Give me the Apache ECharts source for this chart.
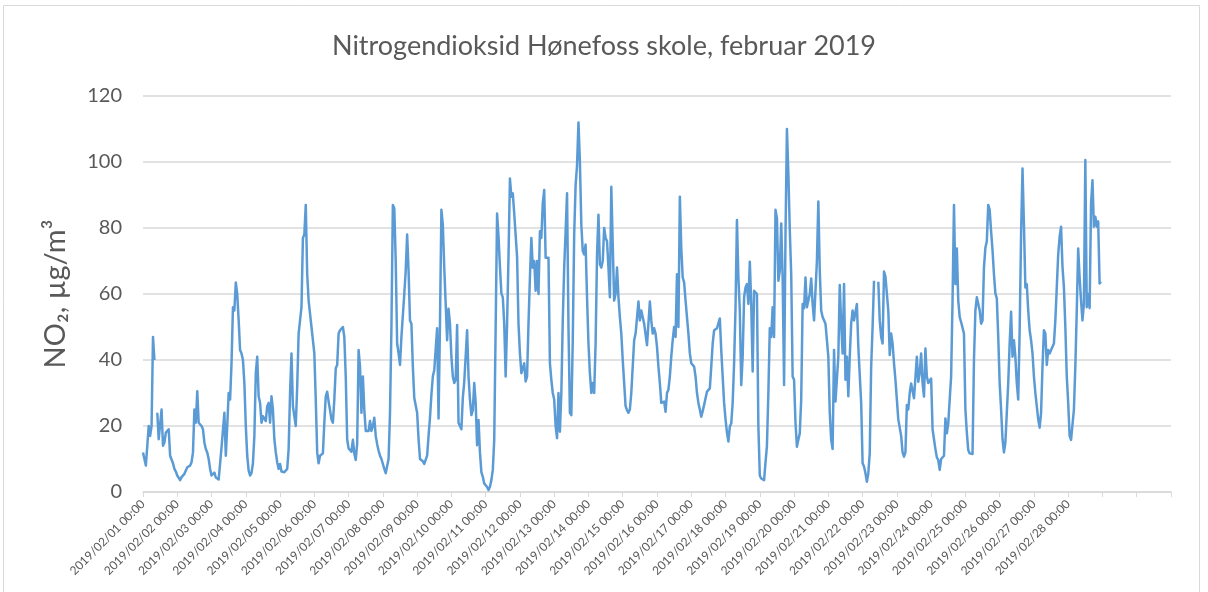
<!DOCTYPE html>
<html>
<head>
<meta charset="utf-8">
<title>Nitrogendioksid Hønefoss skole</title>
<script src="https://cdn.jsdelivr.net/npm/echarts@6/dist/echarts.min.js"></script>
<style>
  html, body { margin: 0; padding: 0; background: #fff; }
  #chart { width: 1208px; height: 592px; }
</style>
</head>
<body>
<div id="chart"></div>
<script>
// dager på aksen (30 dager, de to siste uten etikett)
var days = [
  '2019/02/01', '2019/02/02', '2019/02/03', '2019/02/04', '2019/02/05', '2019/02/06', '2019/02/07',
  '2019/02/08', '2019/02/09', '2019/02/10', '2019/02/11', '2019/02/12', '2019/02/13', '2019/02/14',
  '2019/02/15', '2019/02/16', '2019/02/17', '2019/02/18', '2019/02/19', '2019/02/20', '2019/02/21',
  '2019/02/22', '2019/02/23', '2019/02/24', '2019/02/25', '2019/02/26', '2019/02/27', '2019/02/28',
  '2019/03/01', '2019/03/02', '2019/03/03'
];
var labelledDays = 28;

// NO2 timeverdier, µg/m3 (en linje per døgn, 00:00 - 23:00)
var no2 = [
  12, 10, 8, 8.5, 20, 17, 20, 47, 40, null, 24, 16, 16, 25, 14, 15, 18, 18.5, 19, 11, 10.5, 8.7, 7, 6.2,
  5, 4.5, 3.6, 4.5, 5, 5.5, 6, 7.5, 8, 8, 9, 12, 25, 21, 30.5, 21, 20.5, 20, 19, 15, 13, 12, 10, 7,
  5, 4.5, 5.9, 4.4, 4, 3.8, 3.6, 13.5, 13, 24, 11, 20, 30, 28, 39, 56, 55, 63.5, 60, 52, 43, 42, 40, 33,
  20, 11, 6.5, 5, 5.7, 8.7, 17, 36, 41, 29, 27, 21, 23, 23, 21.5, 26, 27, 21, 29, 25, 16, 12, 9, 7,
  8.5, 6.2, 6, 6, 6.2, 7, 13, 30, 42, 26, 23, 20, 32, 48, 52, 56, 77, 78, 87, 66, 58, 54, 50, 46,
  42, 28, 12, 8.7, 11, 10.7, 11.7, 21, 29, 30.4, 27.4, 24.8, 22, 21, 28, 37.5, 38.5, 48, 49, 49.5, 50, 47, 35, 16,
  13.2, 13.7, 12.2, 15.8, 11.7, 9.7, 14.7, 43, 38, 24, 35, 25, 18.5, 19, 18.5, 21.5, 18.5, 20, 22.5, 17, 14.5, 12.5, 11, 10,
  9.7, 7, 5.7, 5.7, 10, 24, 50, 87, 86, 70, 45, 42, 38.5, 47, 46.5, 60, 67, 78, 67, 52, 51, 38, 28.5, 28,
  24, 16, 10, 9.7, 9.3, 8.5, 9, 11, 17, 22.5, 29.5, 35, 37, 37, 49.6, 22.3, 51, 85.5, 81, 68, 57, 46, 55.5, 51,
  41, 35, 33, 34, 50.6, 21, 20.8, 19, 28.5, 33.4, 33.5, 49, 35, 28, 23.3, 24.8, 33, 27, 14.2, 21.8, 12, 6, 4.6, 2.6,
  2.1, 1.5, 0.6, 1.6, 3.6, 6.7, 15.8, 50, 84.4, 77.4, 68.3, 60.2, 59, 51, 35, 51, 71.3, 95, 89.5, 90.5, 84.4, 84.4, 71.3, 51,
  42, 36, 36, 39, 33.5, 35, 51, 65, 77, 68, 70, 61, 70, 60, 79, 77, 87.5, 91.5, 71, 71, 71, 39, 34, 30,
  28, 20, 16.3, 30, 18.3, 30, 52, 68, 79, 90.5, 50, 24, 23.3, 46, 78, 93, 99, 112, 100, 81, 73, 72, 75, 59,
  45, 36, 30, 33, 30, 45, 72, 84, 69, 68, 70, 80, 77, 76, 68, 59, 92.5, 75, 58, 60, 68, 59, 53, 48,
  40, 33, 26, 24.8, 24, 25, 30, 38, 46, 48, 48, 57.7, 52, 55, 55, 51, 50.5, 44.5, 51, 57.7, 52, 48, 49.6, 48,
  44, 38, 33, 27, 26.5, 27.4, 24.3, 30, 31, 35, 41, 46, 50, 47, 66, 50, 89.5, 74, 65, 63.5, 58, 53, 48, 42,
  39, 39.4, 38, 35, 30, 27, 25, 22.8, 24.5, 26.4, 27, 30.4, 31, 31.4, 38, 45, 49, 49.6, 49.6, 50, 52.6, 43, 35, 27,
  22, 18, 15.3, 19.8, 20.8, 27, 39, 56, 82.4, 65, 55, 32.4, 41, 59, 62, 63, 57, 69.8, 57, 36.5, 61, 61, 60, 20,
  5, 4.1, 3.6, 3.6, 9, 14, 30, 49.6, 47, 56, 47, 85.5, 83, 64, 67, 81.4, 65, 32.4, 78, 110, 96.6, 79.4, 66, 35,
  34, 21, 13.7, 15.8, 17.8, 28, 57, 55.7, 65, 56, 58, 60, 64.7, 57, 52, 61, 70, 88, 67, 55, 53, 52.6, 51, 46,
  41, 24, 15.8, 13, 43, 27.4, 28, 41, 62.7, 51, 42, 63, 34, 41, 29, 41, 51, 55, 52, 52, 57, 44, 43.6, 27,
  8.7, 7.7, 5.7, 3.1, 5.7, 11.7, 38, 50, 64, null, null, 63.7, 52, 47, 45, 66.8, 65.3, 65.8, 55, 41.5, 48, 45, 39, 34,
  28, 22, 22.3, 17, 12, 10.7, 12, 26.4, 25, 30, 32.9, 32.9, 28.4, 28, 41, 33.4, 36, 42, 33, 28.9, 43.5, 35, 33, 32.4,
  34.4, 19, 16, 13, 10.5, 9.7, 6.7, 10, 9.7, 11, 22.3, 17.8, 20.8, 28, 35, 58, 87, 63, 73.8, 58, 53, 51.5, 51, 48,
  25, 18, 12.7, 11.7, 11.4, 11.5, 40, 55, 59, 59, 55, 51, 52, 68, 74, 76, 87, 85.5, 79, 73.3, 66, 60.2, 58.7, 47,
  33, 25, 16, 12, 15, 24, 33, 45, 54.6, 41, 46, 41, 33, 28, 49, 78, 98, 81, 62, 63, 55, 49, 46, 42,
  35, 30, 26, 22, 19.5, 24, 38, 49, 48, 38.5, 43, 42, 43, 43.5, 45, 52, 62, 72, 77.4, 80.4, 68.3, 62, 50, 35,
  27, 17, 15.8, 15.3, 25, 38, 55, 73.8, 65, 58, 52, 57, 100.6, 56, 60, 55.7, 87.5, 94.5, 80.4, 83.4, 80.4, 82, 63.2, 63.7
];

var yTicks = [0, 20, 40, 60, 80, 100, 120];

// kategorier per time
var hours = [];
for (var d = 0; d < days.length - 1; d++) {
  for (var h = 0; h < 24; h++) {
    hours.push(days[d] + ' ' + (h < 10 ? '0' + h : h) + ':00');
  }
}
hours.push(days[days.length - 1] + ' 00:00');

var chartDom = document.getElementById('chart');
var myChart = echarts.init(chartDom);
var grey = '#595959';
var font = 'Lato';

var option = {
  animation: false,
  textStyle: { fontFamily: font },
  title: {
    text: 'Nitrogendioksid Hønefoss skole, februar 2019',
    left: 'center',
    top: 28,
    textStyle: { fontFamily: font, fontSize: 27, fontWeight: 'normal', color: grey }
  },
  graphic: [{
    type: 'rect',
    silent: true,
    z: -10,
    shape: { x: 3.5, y: 5.5, width: 1196, height: 600 },
    style: { fill: 'none', stroke: '#d9d9d9', lineWidth: 1 }
  }],
  grid: { left: 143, right: 37, top: 96, bottom: 100 },
  xAxis: {
    type: 'category',
    data: hours,
    boundaryGap: false,
    axisLine: { lineStyle: { color: '#d9d9d9', width: 1.5 } },
    axisTick: {
      interval: function (i) { return i % 24 === 0; },
      length: 5,
      lineStyle: { color: '#d9d9d9' }
    },
    axisLabel: {
      interval: function (i) { return i % 24 === 0 && i < labelledDays * 24; },
      rotate: 45,
      margin: 10,
      fontSize: 12,
      color: grey,
      fontFamily: font
    },
    splitLine: { show: false }
  },
  yAxis: {
    type: 'value',
    min: yTicks[0],
    max: yTicks[yTicks.length - 1],
    interval: 20,
    name: 'NO₂, µg/m³',
    nameLocation: 'middle',
    nameGap: 73,
    nameTextStyle: { fontSize: 29, color: grey, fontFamily: font },
    axisLine: { show: false },
    axisTick: { show: false },
    axisLabel: { fontSize: 20, color: grey, margin: 21, fontFamily: font },
    splitLine: { lineStyle: { color: '#d9d9d9', width: 1.5 } }
  },
  series: [{
    type: 'line',
    data: no2,
    showSymbol: false,
    symbol: 'none',
    connectNulls: false,
    lineStyle: { color: '#5b9bd5', width: 2.5, join: 'round' },
    itemStyle: { color: '#5b9bd5' }
  }]
};

option && myChart.setOption(option);
</script>
</body>
</html>
